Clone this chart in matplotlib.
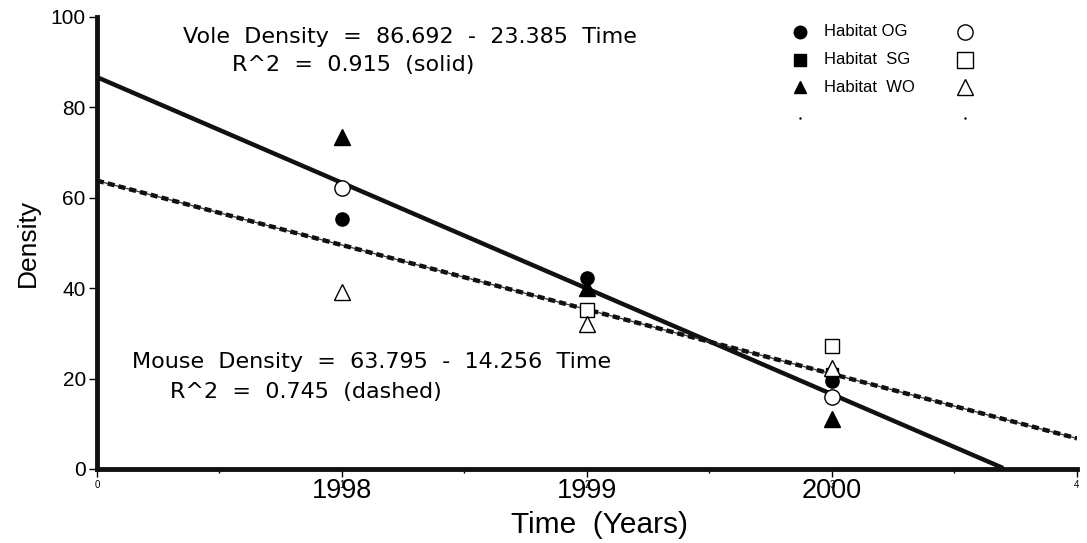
import numpy as np
import matplotlib.pyplot as plt
from matplotlib.transforms import blended_transform_factory

# time index (1 = 1998, 2 = 1999, 3 = 2000)
years = [1998, 1999, 2000]
time_idx = [1, 2, 3]

# vole (filled) and mouse (open) densities per habitat
vole_og = [55.3, 42.3, 19.5]
vole_sg = [None, None, 21.0]
vole_wo = [73.4, 40.0, 11.0]
mouse_og = [62.2, None, 16.0]
mouse_sg = [None, 35.2, 27.2]
mouse_wo = [39.2, 32.0, 22.3]

vole_fit = (86.692, -23.385)
mouse_fit = (63.795, -14.256)

plt.rcParams['font.family'] = ['Liberation Sans', 'DejaVu Sans']

fig = plt.figure(figsize=(10.87, 5.43), dpi=100)
ax = fig.add_axes([0.0892, 0.1363, 0.9016, 0.8324])

ax.set_xlim(0, 4)
ax.set_ylim(0, 100)

# regression lines
xs = np.linspace(0, 4, 200)
vole_line = vole_fit[0] + vole_fit[1] * xs
mask = vole_line >= 0
ax.plot(xs[mask], vole_line[mask], color='#111111', lw=3.2, solid_capstyle='butt', zorder=3)
mouse_line = mouse_fit[0] + mouse_fit[1] * xs
ax.plot(xs, mouse_line, color='#444444', lw=1, zorder=3)
ax.plot(xs, mouse_line, color='#111111', lw=3.2, dashes=(1.6, 0.9), zorder=3)


def pts(vals):
    x = [t for t, v in zip(time_idx, vals) if v is not None]
    y = [v for v in vals if v is not None]
    return x, y


ax.plot(*pts(vole_og), 'o', color='black', ms=9.5, ls='none', zorder=4)
ax.plot(*pts(vole_sg), 's', color='black', ms=9, ls='none', zorder=4)
ax.plot(*pts(vole_wo), '^', color='black', ms=11.5, ls='none', zorder=4, clip_on=False)
ax.plot(*pts(mouse_og), 'o', mfc='white', mec='black', mew=1, ms=11, ls='none', zorder=4)
ax.plot(*pts(mouse_sg), 's', mfc='white', mec='black', mew=1, ms=10, ls='none', zorder=4)
ax.plot(*pts(mouse_wo), '^', mfc='white', mec='black', mew=1, ms=11, ls='none', zorder=4)

# equations
eq_font = dict(fontsize=16, va='center', family=['DejaVu Sans'])
ax.text(0.351, 95.6, 'Vole  Density  =  86.692  -  23.385  Time', **eq_font)
ax.text(0.551, 89.4, 'R^2  =  0.915  (solid)', **eq_font)
ax.text(0.143, 23.7, 'Mouse  Density  =  63.795  -  14.256  Time', **eq_font)
ax.text(0.298, 17.1, 'R^2  =  0.745  (dashed)', **eq_font)

# legend, drawn by hand
leg_labels = ['Habitat OG', 'Habitat  SG', 'Habitat  WO']
leg_markers = ['o', 's', '^']
leg_y = [0.967, 0.905, 0.845]
for lab, mk, yy in zip(leg_labels, leg_markers, leg_y):
    ax.plot(0.717, yy, mk, color='black', ms=9, transform=ax.transAxes, clip_on=False)
    ax.text(0.742, yy, lab, fontsize=12, va='center', transform=ax.transAxes)
    ax.plot(0.886, yy, mk, mfc='white', mec='black', mew=1, ms=11,
            transform=ax.transAxes, clip_on=False)
ax.plot([0.717, 0.886], [0.777, 0.777], '.', color='black', ms=1.5,
        ls='none', transform=ax.transAxes)

# axes styling
for s in ['top', 'right']:
    ax.spines[s].set_visible(False)
for s in ['left', 'bottom']:
    ax.spines[s].set_linewidth(3.5)
    ax.spines[s].set_color('#111111')

ax.set_xticks([0, 1, 2, 3, 4])
ax.set_xticklabels(['0', '1', '2', '3', '4'], fontsize=7)
ax.set_xticks([0.5, 1.5, 2.5, 3.5], minor=True)
ax.tick_params(axis='x', which='major', length=6, width=1, direction='out', pad=2)
ax.tick_params(axis='x', which='minor', length=3, width=1, direction='out')
ax.set_yticks([0, 20, 40, 60, 80, 100])
ax.tick_params(axis='y', which='major', length=6, width=1, direction='out', labelsize=15, pad=2)

trans = blended_transform_factory(ax.transData, ax.transAxes)
for t, yr in zip(time_idx, years):
    ax.text(t, -0.02, str(yr), fontsize=19.5, ha='center', va='top', transform=trans)

ax.set_xlabel('Time  (Years)', fontsize=21.5)
ax.xaxis.set_label_coords(0.513, -0.093)
ax.set_ylabel('Density', fontsize=19, labelpad=8)

fig.savefig('out.png', dpi=100)
